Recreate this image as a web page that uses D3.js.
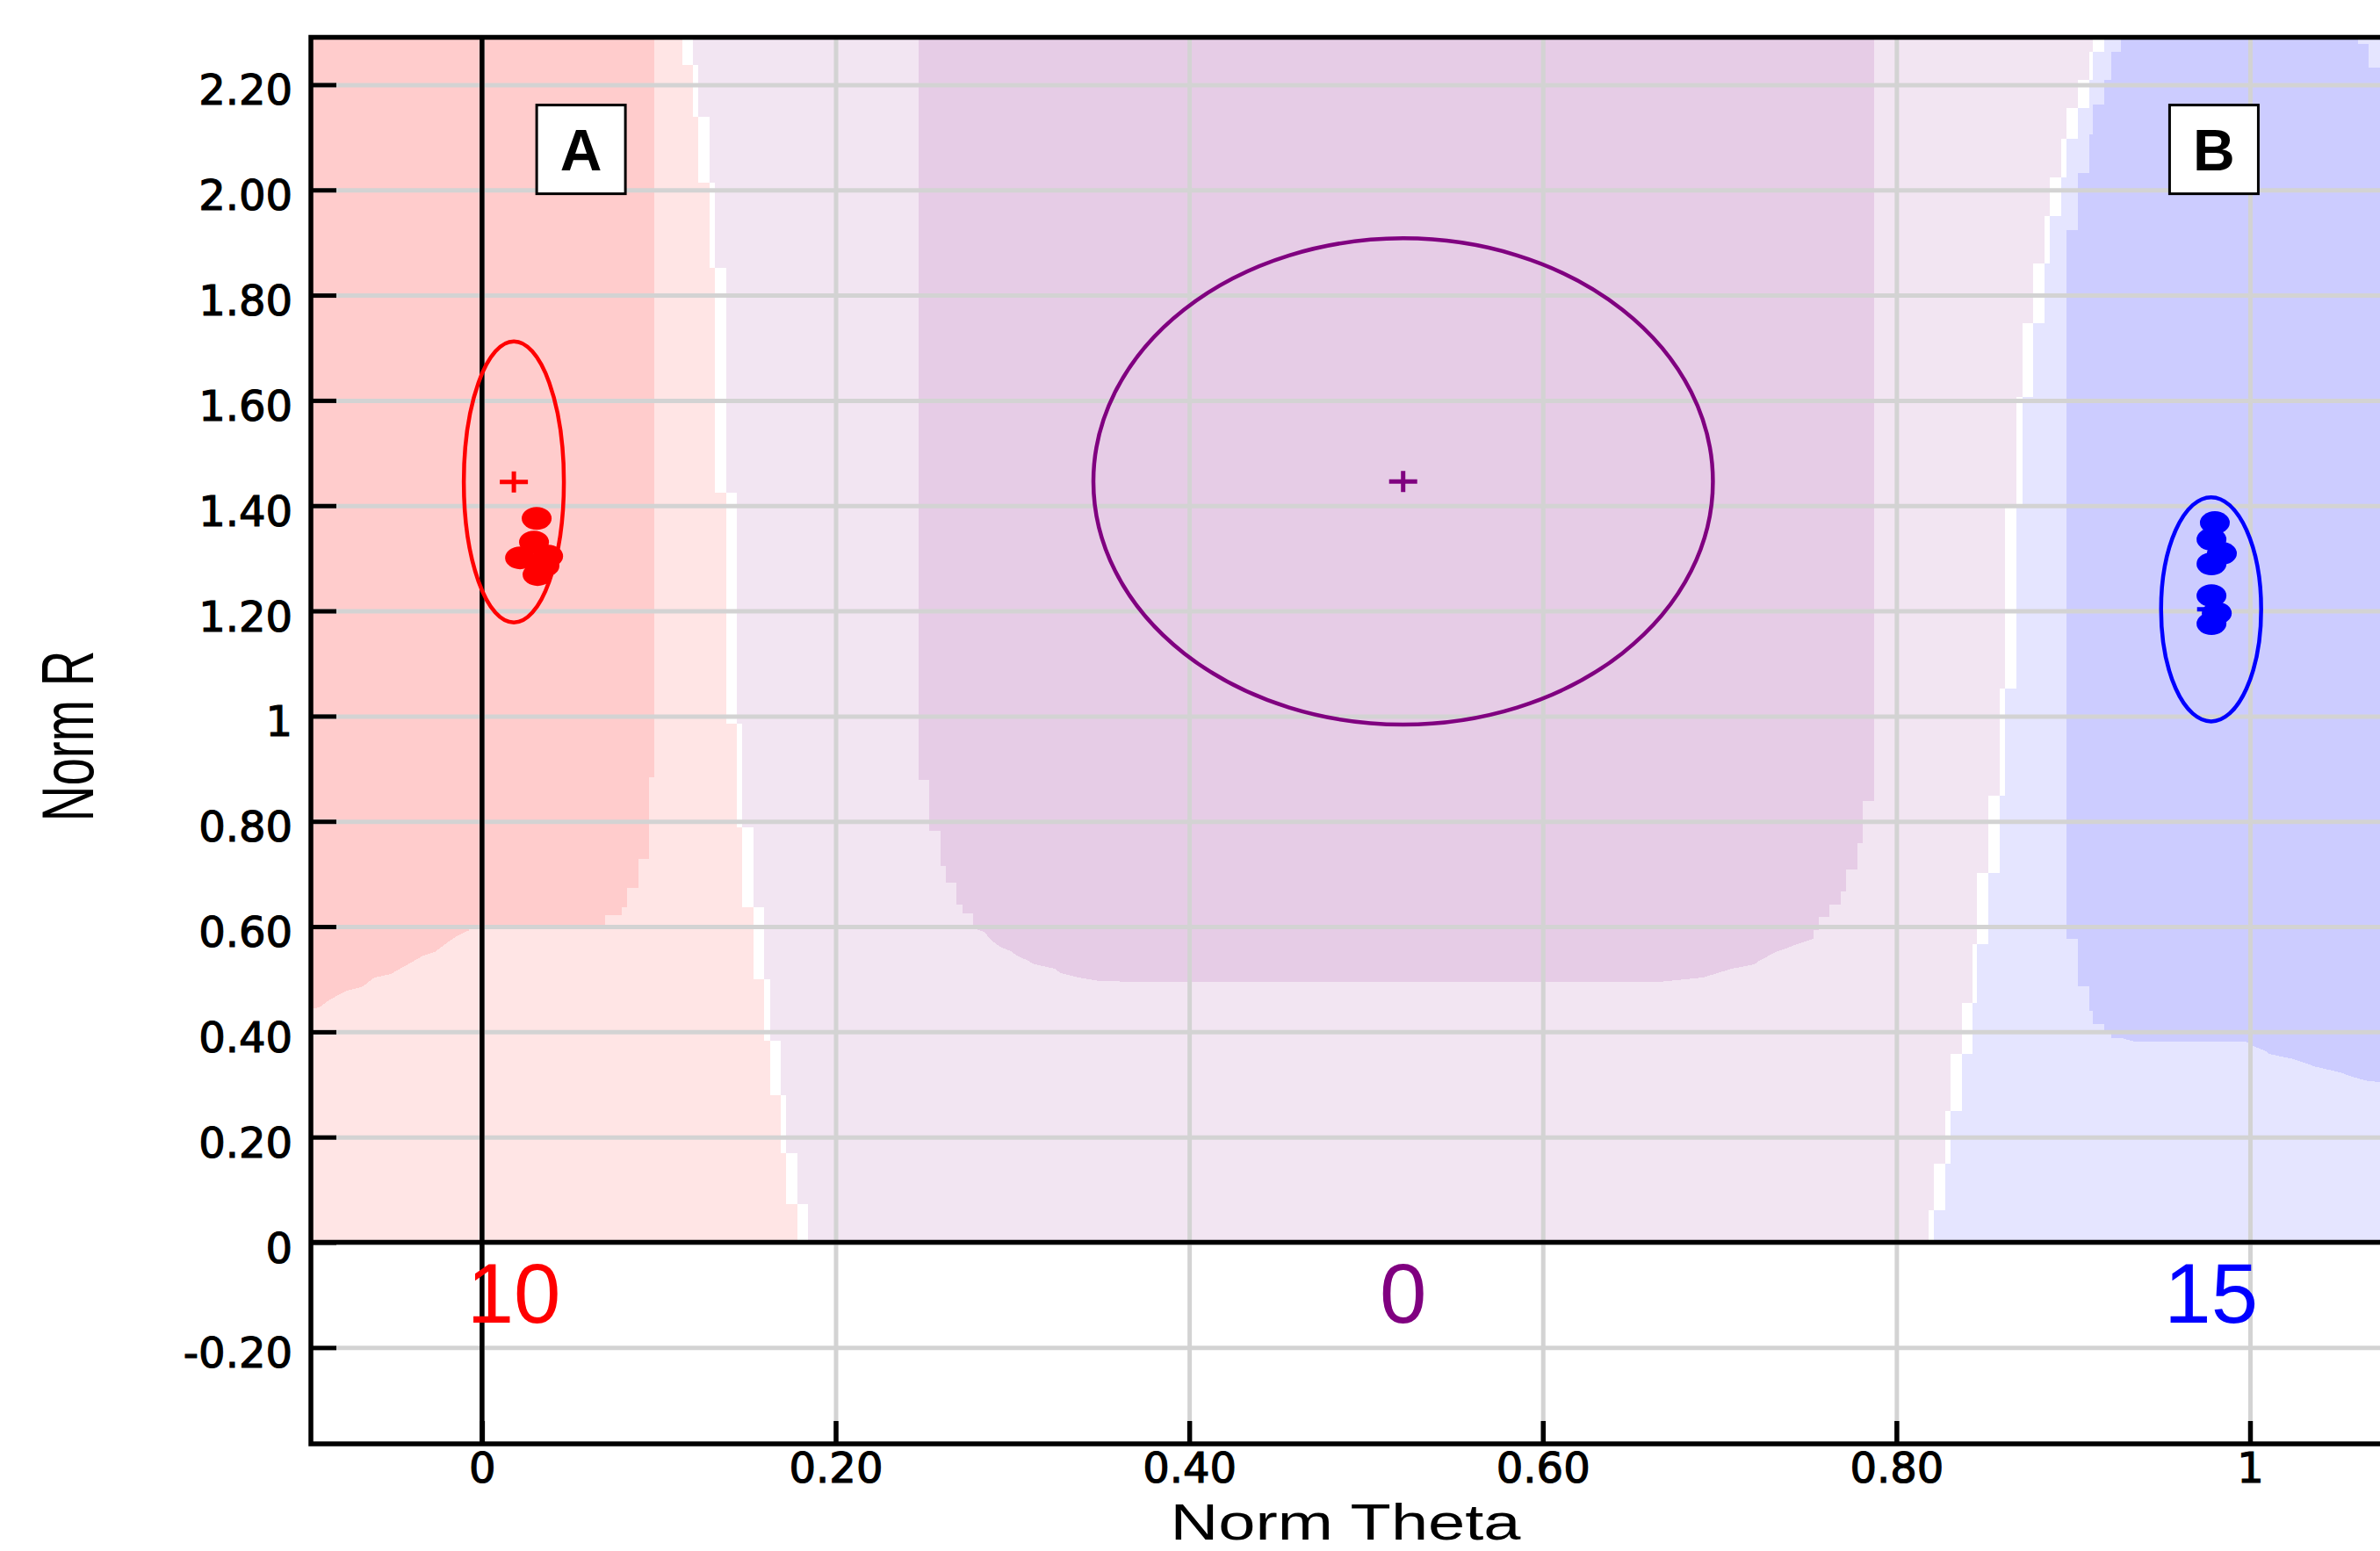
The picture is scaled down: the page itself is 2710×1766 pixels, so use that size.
<!DOCTYPE html>
<html><head><meta charset="utf-8">
<script src="https://cdn.jsdelivr.net/npm/d3@7"></script>
<style>body{margin:0;background:#fff;} svg{display:block}</style>
</head><body>
<svg id="chart" width="2710" height="1766"></svg>
<script>
// ---------------- data ----------------
const xTickValues = [0, 0.2, 0.4, 0.6, 0.8, 1];
const xTickLabels = ["0", "0.20", "0.40", "0.60", "0.80", "1"];
const yTickValues = [-0.2, 0, 0.2, 0.4, 0.6, 0.8, 1, 1.2, 1.4, 1.6, 1.8, 2.0, 2.2];
const yTickLabels = ["-0.20", "0", "0.20", "0.40", "0.60", "0.80", "1", "1.20", "1.40", "1.60", "1.80", "2.00", "2.20"];

const classLabels = ["10", "0", "15"];
const classColors = ["#ff0000", "#800080", "#0000ff"];
const regionDark = ["#ffcccc", "#e6cce6", "#ccccff"];
const regionLight = ["#ffe5e5", "#f2e5f2", "#e5e5ff"];
const classCenterX = [0.018, 0.521, 0.978];
const classCenterY = [1.445, 1.446, 1.203];
const classSpreadX = [0.0283, 0.1752, 0.0283];
const classSpreadY = [0.267, 0.462, 0.213];

const redPointsX = [0.0309, 0.0294, 0.0215, 0.0374, 0.0314, 0.0353];
const redPointsY = [1.3757, 1.3308, 1.3008, 1.3041, 1.2691, 1.2858];
const bluePointsX = [0.9801, 0.9782, 0.9841, 0.9782, 0.9782, 0.9812, 0.9782];
const bluePointsY = [1.3677, 1.3360, 1.3093, 1.2893, 1.2291, 1.1957, 1.1757];

// decision map, left boundary (class 10 | class 0), row by row
const leftRowsY = [2.30, 2.238, 2.139, 2.014, 1.852, 1.425, 0.986, 0.789, 0.637, 0.500, 0.383, 0.279, 0.169, 0.072, 0];
const leftRedEdge = [0.1134, 0.1193, 0.1223, 0.1288, 0.1317, 0.1382, 0.1441, 0.1471, 0.1536, 0.1595, 0.1630, 0.1689, 0.1719, 0.1784];
const leftPurpleEdge = [0.1193, 0.1223, 0.1288, 0.1317, 0.1382, 0.1441, 0.1471, 0.1536, 0.1595, 0.1630, 0.1689, 0.1719, 0.1784, 0.1844];

// decision map, right boundary (class 0 | class 15), row by row
const rightRowsY = [2.30, 2.2619, 2.2095, 2.1564, 2.0976, 2.0242, 1.9508, 1.8594, 1.7465, 1.6071, 1.4028, 1.0527, 0.8486, 0.7017, 0.5673, 0.4555, 0.3579, 0.2494, 0.1501, 0.0614, 0];
const rightPurpleEdge = [0.9112, 0.9089, 0.9026, 0.8962, 0.8931, 0.8867, 0.8838, 0.8775, 0.8711, 0.8680, 0.8616, 0.8585, 0.8521, 0.8457, 0.8429, 0.8371, 0.8305, 0.8276, 0.8213, 0.8184];
const rightBlueEdge = [0.9176, 0.9112, 0.9089, 0.9026, 0.8962, 0.8931, 0.8867, 0.8838, 0.8775, 0.8711, 0.8680, 0.8616, 0.8585, 0.8521, 0.8457, 0.8429, 0.8371, 0.8305, 0.8276, 0.8213];

// high-confidence cores
const coreRed = [[-0.11, 2.30], [0.0975, 2.30], [0.0975, 0.883], [0.0945, 0.883], [0.0945, 0.728], [0.0885, 0.728], [0.0885, 0.673], [0.0821, 0.673], [0.0821, 0.637], [0.0791, 0.637], [0.0791, 0.622], [0.0697, 0.622], [0.0697, 0.597], [-0.0073, 0.597], [-0.0073, 0.593], [-0.0138, 0.583], [-0.0203, 0.568], [-0.0267, 0.552], [-0.0332, 0.545], [-0.0421, 0.528], [-0.0516, 0.510], [-0.0610, 0.503], [-0.0675, 0.486], [-0.0764, 0.478], [-0.0858, 0.462], [-0.0923, 0.446], [-0.11, 0.440]];
const corePurple = [[0.2469, 2.30], [0.2469, 0.879], [0.2529, 0.879], [0.2529, 0.782], [0.2594, 0.782], [0.2594, 0.716], [0.2623, 0.716], [0.2623, 0.684], [0.2683, 0.684], [0.2683, 0.642], [0.2717, 0.642], [0.2717, 0.625], [0.2777, 0.625], [0.2777, 0.597], [0.2842, 0.590], [0.2872, 0.5766], [0.2930, 0.5614], [0.2993, 0.553], [0.3025, 0.545], [0.3090, 0.535], [0.3120, 0.529], [0.3240, 0.5198], [0.3275, 0.5114], [0.3370, 0.5034], [0.3496, 0.4964], [0.3740, 0.495], [0.6660, 0.495], [0.6907, 0.5034], [0.6970, 0.5098], [0.7066, 0.5198], [0.7194, 0.528], [0.7224, 0.535], [0.7316, 0.5515], [0.7380, 0.559], [0.7440, 0.567], [0.7530, 0.577], [0.7530, 0.593], [0.7560, 0.593], [0.7560, 0.618], [0.7620, 0.618], [0.7620, 0.641], [0.7686, 0.641], [0.7686, 0.667], [0.7714, 0.667], [0.7714, 0.708], [0.7780, 0.708], [0.7780, 0.759], [0.7810, 0.759], [0.7810, 0.839], [0.7872, 0.839], [0.7872, 2.30]];
const coreBlue = [[0.927, 2.30], [0.927, 2.262], [0.9213, 2.262], [0.9213, 2.2095], [0.9176, 2.2095], [0.9176, 2.163], [0.9113, 2.163], [0.9113, 2.106], [0.909, 2.106], [0.909, 2.032], [0.9026, 2.032], [0.9026, 1.9236], [0.8962, 1.9236], [0.8962, 0.5769], [0.9026, 0.5769], [0.9026, 0.4874], [0.909, 0.4874], [0.909, 0.4397], [0.911, 0.4397], [0.911, 0.414], [0.9176, 0.414], [0.9176, 0.3963], [0.9213, 0.3963], [0.9213, 0.3884], [0.927, 0.3884], [0.934, 0.3821], [0.9975, 0.3821], [1.002, 0.3729], [1.0093, 0.3629], [1.0107, 0.3579], [1.024, 0.3489], [1.0306, 0.3412], [1.037, 0.3338], [1.0511, 0.3228], [1.0578, 0.3145], [1.0665, 0.3066], [1.09, 0.300], [1.09, 2.233], [1.067, 2.233], [1.067, 2.278], [1.061, 2.278], [1.061, 2.30]];

const panelLabels = ["A", "B"];
const panelLabelX = [0.056, 0.9796];
const panelLabelY = [2.077, 2.077];

// ---------------- layout ----------------
const L = 354, R = 2716, T = 42.5, B = 1644;
const x = d3.scaleLinear().domain([-0.0968, 1.0765]).range([L, R]);
const y = d3.scaleLinear().domain([-0.383, 2.29]).range([B, T]);
const svg = d3.select("#chart");
const TICK_FONT = "'DejaVu Sans', Verdana, sans-serif";
const TITLE_FONT = "'Liberation Sans', Arial, sans-serif";

svg.append("rect").attr("width", 2710).attr("height", 1766).attr("fill", "#fff");
svg.append("defs").append("clipPath").attr("id", "clip")
  .append("rect").attr("x", L).attr("y", T).attr("width", R - L).attr("height", B - T);
const plot = svg.append("g").attr("clip-path", "url(#clip)");
const poly = d3.line().x(d => x(d[0])).y(d => y(d[1])).curve(d3.curveLinearClosed);

// base: class 0 light region over the y >= 0 half-plane
plot.append("rect").attr("x", L).attr("y", T - 5).attr("width", R - L).attr("height", y(0) - T + 5)
  .attr("fill", regionLight[1]);

const leftRows = leftRedEdge.map((e, i) => ({ y0: leftRowsY[i], y1: leftRowsY[i + 1], red: e, purple: leftPurpleEdge[i] }));
const rightRows = rightPurpleEdge.map((e, i) => ({ y0: rightRowsY[i], y1: rightRowsY[i + 1], purple: e, blue: rightBlueEdge[i] }));

const rowsG = plot.append("g").attr("shape-rendering", "crispEdges");
rowsG.selectAll(".wl").data(leftRows).join("rect").attr("class", "wl")
  .attr("x", L - 5).attr("y", d => y(d.y0)).attr("width", d => x(d.purple) - L + 5).attr("height", d => y(d.y1) - y(d.y0))
  .attr("fill", "#fff");
rowsG.selectAll(".rl").data(leftRows).join("rect").attr("class", "rl")
  .attr("x", L - 5).attr("y", d => y(d.y0)).attr("width", d => x(d.red) - L + 5).attr("height", d => y(d.y1) - y(d.y0))
  .attr("fill", regionLight[0]);
rowsG.selectAll(".wr").data(rightRows).join("rect").attr("class", "wr")
  .attr("x", d => x(d.purple)).attr("y", d => y(d.y0)).attr("width", d => R + 10 - x(d.purple)).attr("height", d => y(d.y1) - y(d.y0))
  .attr("fill", "#fff");
rowsG.selectAll(".br").data(rightRows).join("rect").attr("class", "br")
  .attr("x", d => x(d.blue)).attr("y", d => y(d.y0)).attr("width", d => R + 10 - x(d.blue)).attr("height", d => y(d.y1) - y(d.y0))
  .attr("fill", regionLight[2]);

[coreRed, corePurple, coreBlue].forEach((c, i) => {
  plot.append("path").attr("d", poly(c)).attr("fill", regionDark[i]).attr("shape-rendering", "crispEdges");
});

// gridlines
const gx = svg.append("g").attr("transform", `translate(0,${B})`)
  .call(d3.axisBottom(x).tickValues(xTickValues).tickSize(-(B - T)).tickFormat(""));
gx.select(".domain").remove();
gx.selectAll("line").attr("stroke", "#d3d3d3").attr("stroke-width", 5);
const gy = svg.append("g").attr("transform", `translate(${L},0)`)
  .call(d3.axisLeft(y).tickValues(yTickValues).tickSize(-(R - L)).tickFormat(""));
gy.select(".domain").remove();
gy.selectAll("line").attr("stroke", "#d3d3d3").attr("stroke-width", 5);

// zero reference lines
svg.append("line").attr("x1", x(0)).attr("x2", x(0)).attr("y1", T).attr("y2", B)
  .attr("stroke", "#000").attr("stroke-width", 5.5);
svg.append("line").attr("x1", L).attr("x2", R).attr("y1", y(0)).attr("y2", y(0))
  .attr("stroke", "#000").attr("stroke-width", 5.5);

// class ellipses and centres
const marks = svg.append("g").attr("clip-path", "url(#clip)");
classLabels.forEach((lab, i) => {
  const cx = x(classCenterX[i]), cy = y(classCenterY[i]);
  marks.append("ellipse").attr("cx", cx).attr("cy", cy)
    .attr("rx", x(classCenterX[i] + classSpreadX[i]) - cx)
    .attr("ry", cy - y(classCenterY[i] + classSpreadY[i]))
    .attr("fill", "none").attr("stroke", classColors[i]).attr("stroke-width", 4.5);
  marks.append("path").attr("d", `M${cx - 16},${cy}H${cx + 16}M${cx},${cy - 12}V${cy + 12}`)
    .attr("stroke", classColors[i]).attr("stroke-width", 5).attr("fill", "none");
});

// data points
marks.selectAll(".rp").data(redPointsX.map((v, i) => [v, redPointsY[i]])).join("ellipse").attr("class", "rp")
  .attr("cx", d => x(d[0])).attr("cy", d => y(d[1])).attr("rx", 17).attr("ry", 13).attr("fill", classColors[0]);
marks.selectAll(".bp").data(bluePointsX.map((v, i) => [v, bluePointsY[i]])).join("ellipse").attr("class", "bp")
  .attr("cx", d => x(d[0])).attr("cy", d => y(d[1])).attr("rx", 17).attr("ry", 13).attr("fill", classColors[2]);

// class labels under the axis
classLabels.forEach((lab, i) => {
  svg.append("text").attr("x", x(classCenterX[i])).attr("y", y(0) + 91)
    .attr("text-anchor", "middle").attr("font-family", TITLE_FONT).attr("font-size", 96)
    .attr("fill", classColors[i]).text(lab);
});

// panel labels A / B
panelLabels.forEach((lab, i) => {
  const cx = x(panelLabelX[i]), cy = y(panelLabelY[i]);
  svg.append("rect").attr("x", cx - 50.5).attr("y", cy - 50.5).attr("width", 101).attr("height", 101)
    .attr("fill", "#fff").attr("stroke", "#000").attr("stroke-width", 3);
  svg.append("text").attr("x", cx).attr("y", cy + 24).attr("text-anchor", "middle")
    .attr("font-family", TITLE_FONT).attr("font-weight", "bold").attr("font-size", 66).attr("fill", "#000").text(lab);
});

// frame
svg.append("rect").attr("x", L).attr("y", T).attr("width", R - L).attr("height", B - T)
  .attr("fill", "none").attr("stroke", "#000").attr("stroke-width", 5.5);

// axes with inward ticks
const ax = svg.append("g").attr("transform", `translate(0,${B})`)
  .call(d3.axisBottom(x).tickValues(xTickValues).tickFormat((d, i) => xTickLabels[i]).tickSizeInner(-26).tickSizeOuter(0).tickPadding(10));
ax.select(".domain").remove();
ax.selectAll("line").attr("stroke", "#000").attr("stroke-width", 5.5);
ax.selectAll("text").attr("font-family", TICK_FONT).attr("font-size", 48).attr("fill", "#000")
  .attr("stroke", "#000").attr("stroke-width", 1.2);

const ay = svg.append("g").attr("transform", `translate(${L},0)`)
  .call(d3.axisLeft(y).tickValues(yTickValues).tickFormat((d, i) => yTickLabels[i]).tickSizeInner(-29).tickSizeOuter(0).tickPadding(21));
ay.select(".domain").remove();
ay.selectAll("line").attr("stroke", "#000").attr("stroke-width", 5);
ay.selectAll("text").attr("font-family", TICK_FONT).attr("font-size", 48).attr("fill", "#000").attr("dy", "0.47em")
  .attr("stroke", "#000").attr("stroke-width", 1.2);

// axis titles
svg.append("text").attr("x", 1532).attr("y", 1753).attr("text-anchor", "middle")
  .attr("font-family", TITLE_FONT).attr("font-size", 58).attr("fill", "#000")
  .attr("textLength", 399).attr("lengthAdjust", "spacingAndGlyphs").text("Norm Theta");
svg.append("text").attr("transform", "translate(106,838) rotate(-90)").attr("text-anchor", "middle")
  .attr("font-family", TITLE_FONT).attr("font-size", 84).attr("fill", "#000")
  .attr("textLength", 195).attr("lengthAdjust", "spacingAndGlyphs").text("Norm R");
</script>
</body></html>
